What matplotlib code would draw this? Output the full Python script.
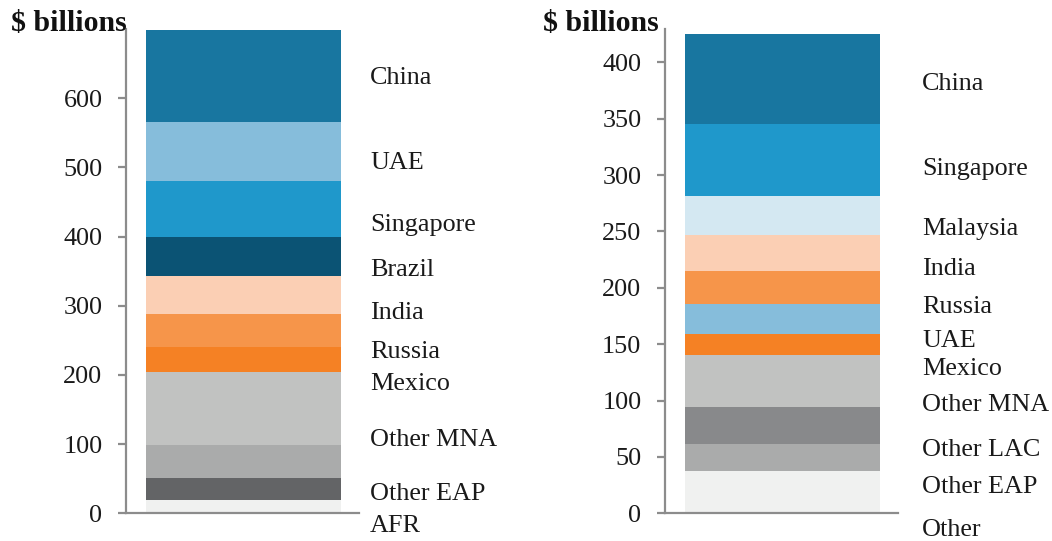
import matplotlib
matplotlib.use("Agg")
import matplotlib.pyplot as plt
import numpy as np

plt.rcParams['font.family'] = ['Liberation Serif', 'DejaVu Serif']

# ---- Left chart data (bottom to top) ----
left_segments = ["AFR", "Other LAC", "Other EAP", "Other MNA", "Mexico", "Russia",
                 "India", "Brazil", "Singapore", "UAE", "China"]
left_values = [19, 31.5, 47.5, 106, 36, 47.5, 55.5, 57, 81, 84, 133]
left_colors = ["#f0f1f0", "#636466", "#aaabab", "#c1c2c1", "#f58124", "#f6954a",
               "#fbcfb4", "#0b5374", "#1f98cb", "#86bddb", "#1876a0"]
left_labels = ["China", "UAE", "Singapore", "Brazil", "India", "Russia", "Mexico",
               "Other MNA", "Other EAP", "AFR"]
left_label_y = [629, 507, 416, 351, 289, 233, 187, 106, 28, -18]
left_ticks = [0, 100, 200, 300, 400, 500, 600]

# ---- Right chart data (bottom to top) ----
right_segments = ["Other", "Other EAP", "Other LAC", "Other MNA", "Mexico", "UAE",
                  "Russia", "India", "Malaysia", "Singapore", "China"]
right_values = [37.2, 23.9, 33.3, 46.1, 18.9, 26.6, 28.9, 31.9, 35.1, 63.2, 80.3]
right_colors = ["#f0f1f0", "#aaabab", "#88898b", "#c1c2c1", "#f58124", "#86bddb",
                "#f6954a", "#fbcfb4", "#d4e8f2", "#1f98cb", "#1876a0"]
right_labels = ["China", "Singapore", "Malaysia", "India", "Russia", "UAE", "Mexico",
                "Other MNA", "Other LAC", "Other EAP", "Other"]
right_label_y = [381, 305, 252, 217, 183, 153, 128, 96, 56, 23, -15]
right_ticks = [0, 50, 100, 150, 200, 250, 300, 350, 400]

W, H = 1052, 541
fig = plt.figure(figsize=(W / 100, H / 100), dpi=100)

spine_color = "#8c8c8c"
FS = 18.8


def draw(ax_rect, values, colors, labels, label_y, ticks, ylim_top, label_x):
    ax = fig.add_axes(ax_rect)
    bottom = 0.0
    for v, c in zip(values, colors):
        ax.bar(0, v, width=0.8356, bottom=bottom, color=c, edgecolor="none")
        bottom += v
    ax.set_xlim(-0.5036, 0.4964)
    ax.set_ylim(0, ylim_top)
    ax.set_yticks(ticks)
    ax.set_yticklabels([str(t) for t in ticks], fontsize=FS, color="#1a1a1a")
    ax.set_xticks([])
    for s in ["top", "right"]:
        ax.spines[s].set_visible(False)
    for s in ["left", "bottom"]:
        ax.spines[s].set_color(spine_color)
        ax.spines[s].set_linewidth(1.6)
    ax.tick_params(axis="y", direction="out", length=6, width=1.6,
                   color=spine_color, pad=11)
    for lab, y in zip(labels, label_y):
        ax.text(label_x, y, lab, transform=ax.get_yaxis_transform(),
                fontsize=FS, va="center", ha="left", color="#1a1a1a",
                clip_on=False)
    return ax


draw([126 / W, 1 - 513.3 / H, 233 / W, (513.3 - 29) / H],
     left_values, left_colors, left_labels, left_label_y, left_ticks, 700, 1.047)
draw([665 / W, 1 - 513.3 / H, 233 / W, (513.3 - 29) / H],
     right_values, right_colors, right_labels, right_label_y, right_ticks, 429.6, 1.103)

fig.text(11 / W, 1 - 23.5 / H, "$ billions", fontsize=21.5, fontweight="bold",
         ha="left", va="center", color="#111111")
fig.text(543 / W, 1 - 23.5 / H, "$ billions", fontsize=21.5, fontweight="bold",
         ha="left", va="center", color="#111111")

fig.savefig("out.png", dpi=100)
